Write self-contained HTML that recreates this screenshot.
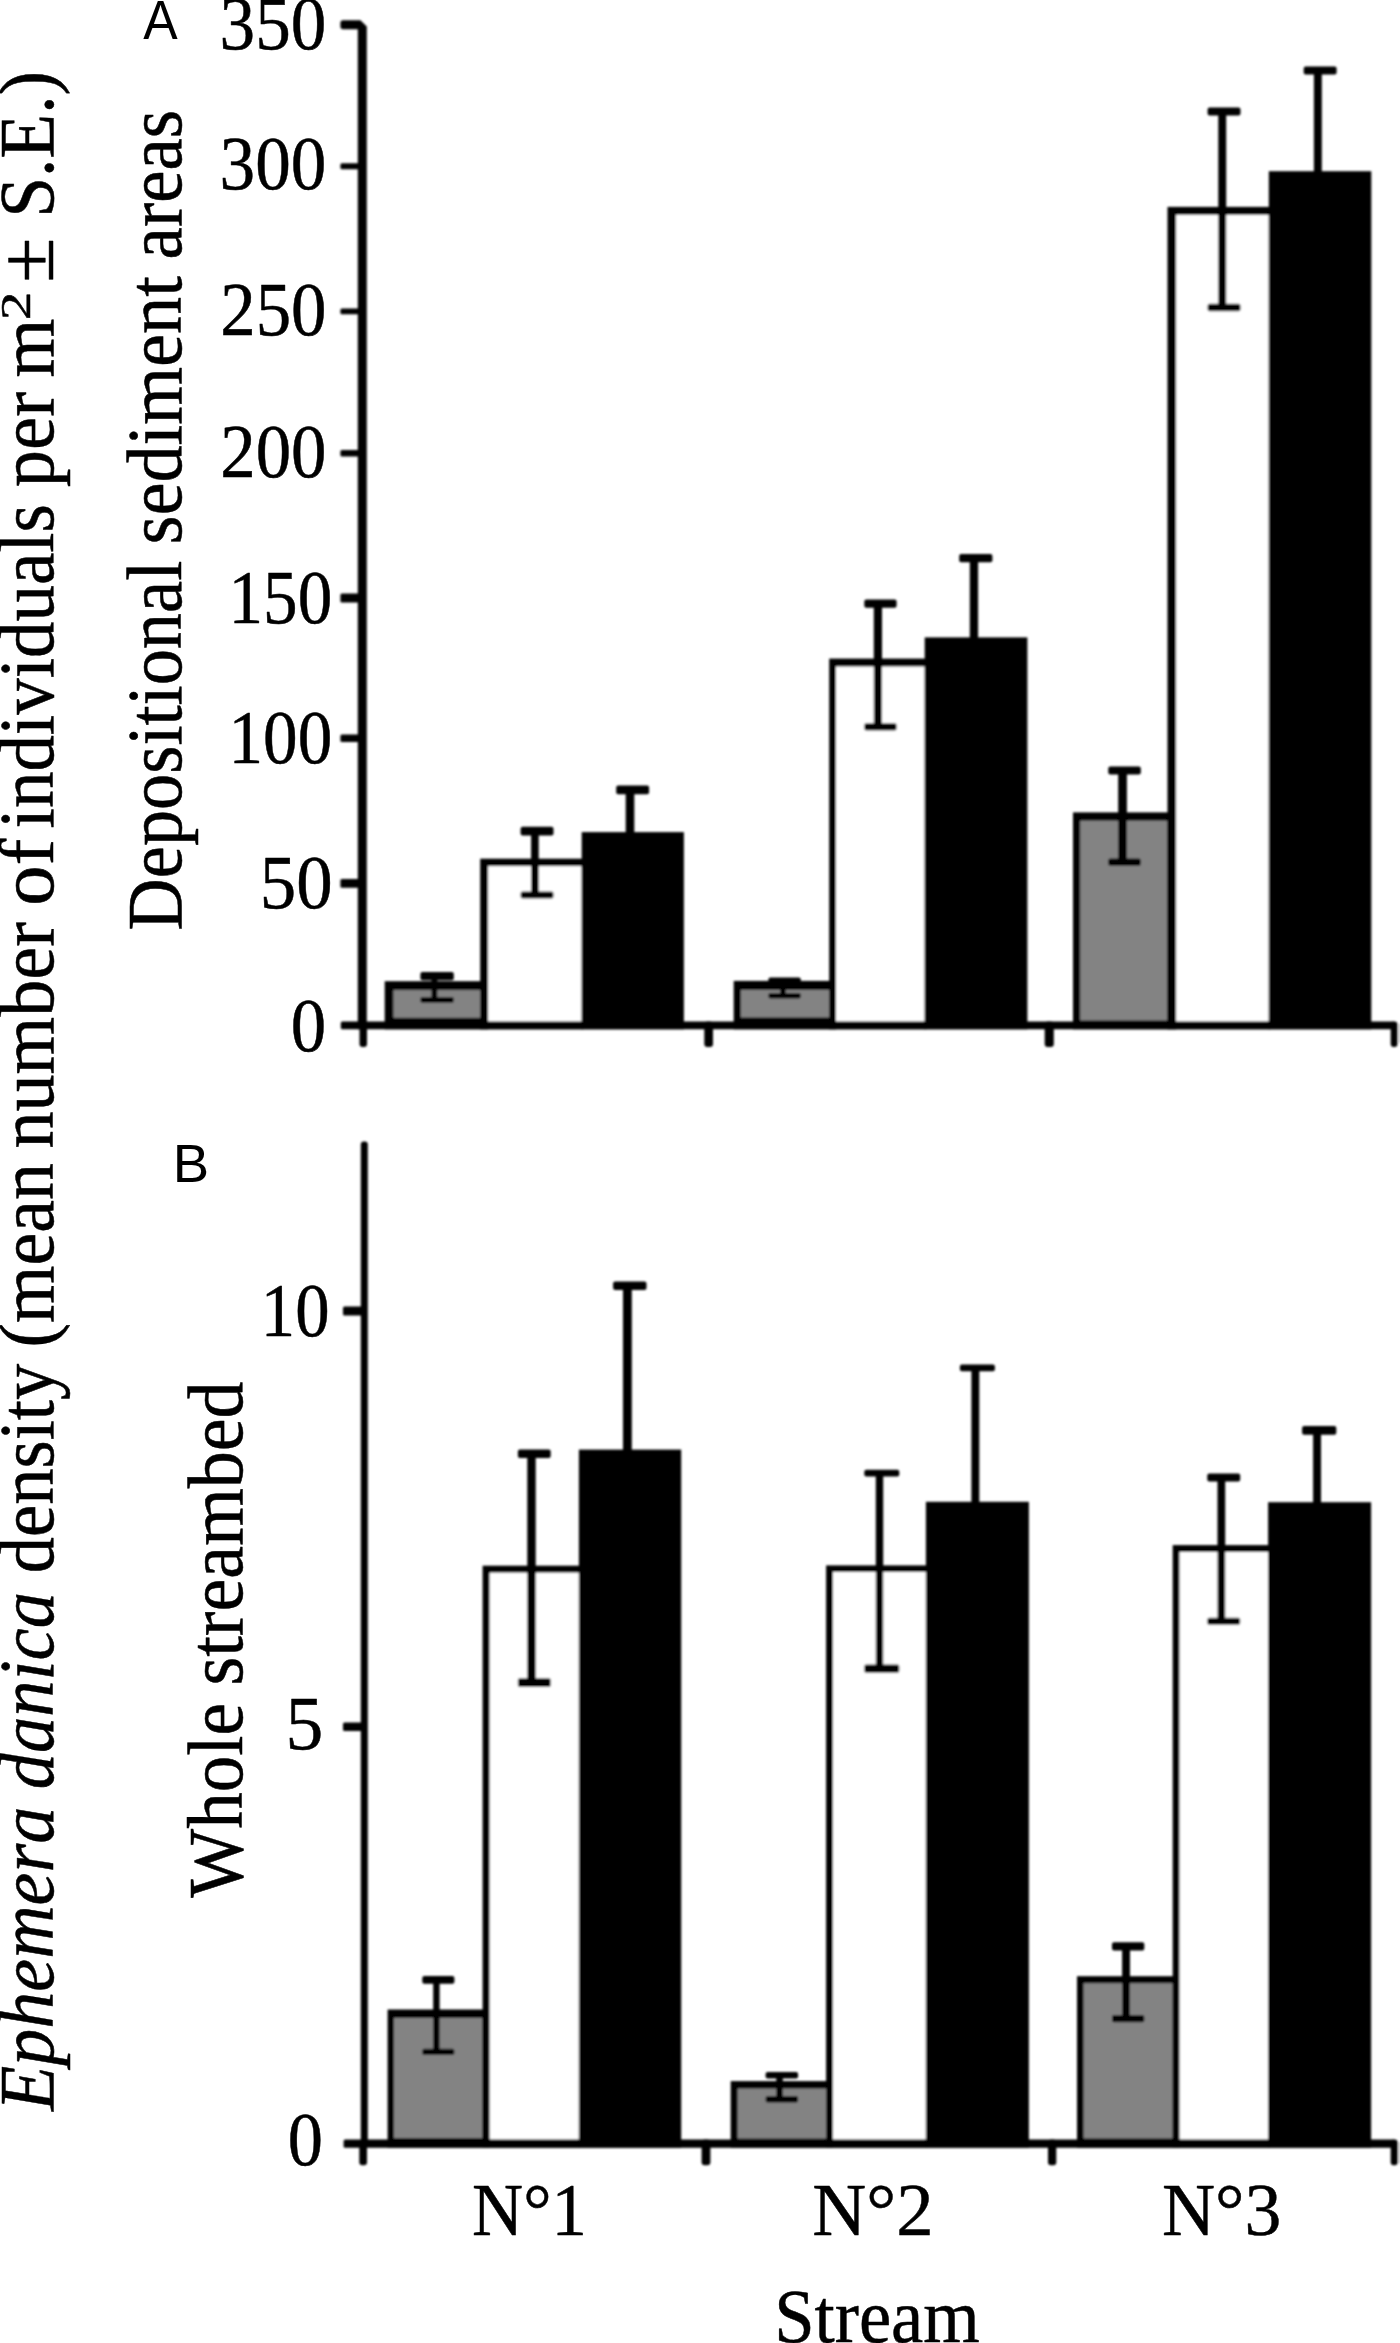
<!DOCTYPE html>
<html lang="en"><head><meta charset="utf-8"><title>Ephemera danica density</title>
<style>
html,body{margin:0;padding:0;background:#fff;}
body{width:1400px;height:2343px;overflow:hidden;}
svg{display:block;font-family:"Liberation Serif",serif;fill:#000;}
</style></head><body>
<svg width="1400" height="2343" viewBox="0 0 1400 2343">
<defs>
<filter id="fs" x="0" y="0" width="1400" height="2343" filterUnits="userSpaceOnUse"><feGaussianBlur stdDeviation="0.8"/></filter>
<filter id="ft" x="0" y="0" width="1400" height="2343" filterUnits="userSpaceOnUse"><feGaussianBlur stdDeviation="0.7"/></filter>
</defs>
<rect width="1400" height="2343" fill="#fff"/>
<g filter="url(#fs)">
<path d="M357.8 1029.3 L357.8 29.2 L343 29.2 Q340.4 29.2 340.4 26.6 L340.4 22.9 Q340.4 20.3 343 20.3 L360.4 20.3 L366.8 26.4 L366.8 1029.3 Z" fill="#000"/>
<rect x="340.40" y="163.15" width="19.60" height="6.20" rx="1.5" fill="#000"/>
<rect x="340.40" y="308.50" width="19.60" height="5.80" rx="1.5" fill="#000"/>
<rect x="340.40" y="449.95" width="19.60" height="6.50" rx="1.5" fill="#000"/>
<rect x="340.40" y="593.50" width="19.60" height="9.00" rx="1.5" fill="#000"/>
<rect x="340.40" y="734.50" width="19.60" height="7.50" rx="1.5" fill="#000"/>
<rect x="340.40" y="879.00" width="19.60" height="8.80" rx="1.5" fill="#000"/>
<rect x="340.80" y="1021.40" width="1054.00" height="7.90" rx="1.5" fill="#000"/>
<rect x="359.50" y="1021.40" width="7.50" height="25.60" rx="3" fill="#000"/>
<rect x="704.30" y="1021.40" width="8.70" height="25.60" rx="3" fill="#000"/>
<rect x="1044.70" y="1021.40" width="9.10" height="25.60" rx="3" fill="#000"/>
<rect x="1390.70" y="1021.40" width="6.80" height="25.60" rx="3" fill="#000"/>
<rect x="1399.00" y="1023.50" width="1.00" height="19.50" fill="#9a9a9a"/>
<rect x="384.70" y="981.20" width="103.40" height="48.10" fill="#000"/>
<rect x="393.40" y="990.10" width="87.00" height="27.70" fill="#838383"/>
<rect x="480.20" y="858.70" width="102.80" height="170.60" fill="#000"/>
<rect x="488.10" y="866.10" width="93.60" height="155.30" fill="#fff"/>
<rect x="581.70" y="832.10" width="102.20" height="197.20" fill="#000"/>
<rect x="420.40" y="972.10" width="33.40" height="8.10" rx="2" fill="#000"/>
<rect x="420.40" y="996.90" width="33.40" height="5.80" rx="2" fill="#000"/>
<rect x="431.50" y="973.10" width="5.80" height="28.60" fill="#000"/>
<rect x="520.60" y="826.70" width="32.90" height="8.70" rx="2" fill="#000"/>
<rect x="520.60" y="891.60" width="32.90" height="6.90" rx="2" fill="#000"/>
<rect x="531.10" y="827.70" width="7.60" height="69.80" fill="#000"/>
<rect x="616.20" y="785.60" width="32.90" height="8.70" rx="2" fill="#000"/>
<rect x="625.70" y="786.60" width="8.60" height="53.40" fill="#000"/>
<rect x="733.70" y="980.90" width="102.30" height="48.40" fill="#000"/>
<rect x="740.80" y="989.90" width="88.40" height="27.60" fill="#838383"/>
<rect x="829.20" y="658.60" width="96.80" height="370.70" fill="#000"/>
<rect x="836.00" y="666.50" width="88.70" height="354.90" fill="#fff"/>
<rect x="924.70" y="637.40" width="102.70" height="391.90" fill="#000"/>
<rect x="768.40" y="977.60" width="32.40" height="6.40" rx="2" fill="#000"/>
<rect x="768.40" y="993.00" width="32.40" height="5.60" rx="2" fill="#000"/>
<rect x="780.00" y="978.60" width="5.80" height="19.00" fill="#000"/>
<rect x="864.30" y="599.60" width="32.30" height="8.20" rx="2" fill="#000"/>
<rect x="864.30" y="723.20" width="32.30" height="7.40" rx="2" fill="#000"/>
<rect x="873.80" y="600.60" width="8.20" height="129.00" fill="#000"/>
<rect x="959.20" y="554.00" width="33.20" height="8.20" rx="2" fill="#000"/>
<rect x="969.80" y="555.00" width="8.30" height="90.00" fill="#000"/>
<rect x="1073.00" y="812.40" width="103.10" height="216.90" fill="#000"/>
<rect x="1080.20" y="820.60" width="86.80" height="199.90" fill="#838383"/>
<rect x="1167.50" y="206.90" width="102.50" height="822.40" fill="#000"/>
<rect x="1176.10" y="214.80" width="92.70" height="806.60" fill="#fff"/>
<rect x="1268.80" y="171.20" width="102.50" height="858.10" fill="#000"/>
<rect x="1108.30" y="766.40" width="32.50" height="8.20" rx="2" fill="#000"/>
<rect x="1108.30" y="858.40" width="32.50" height="7.40" rx="2" fill="#000"/>
<rect x="1118.20" y="767.40" width="8.70" height="97.40" fill="#000"/>
<rect x="1207.60" y="107.50" width="32.90" height="7.90" rx="2" fill="#000"/>
<rect x="1207.60" y="303.80" width="32.90" height="7.40" rx="2" fill="#000"/>
<rect x="1218.30" y="108.50" width="7.90" height="201.70" fill="#000"/>
<rect x="1303.70" y="66.40" width="32.90" height="8.20" rx="2" fill="#000"/>
<rect x="1313.90" y="67.40" width="7.90" height="112.60" fill="#000"/>
<rect x="360.80" y="1141.50" width="7.00" height="1006.20" rx="3" fill="#000"/>
<rect x="343.00" y="1306.50" width="20.00" height="9.00" rx="1.5" fill="#000"/>
<rect x="343.00" y="1722.50" width="20.00" height="8.50" rx="1.5" fill="#000"/>
<rect x="343.60" y="2139.40" width="1051.40" height="8.30" rx="1.5" fill="#000"/>
<rect x="359.30" y="2139.40" width="7.70" height="25.90" rx="3" fill="#000"/>
<rect x="701.60" y="2139.40" width="8.80" height="25.90" rx="3" fill="#000"/>
<rect x="1048.00" y="2139.40" width="8.30" height="25.90" rx="3" fill="#000"/>
<rect x="1390.70" y="2139.40" width="7.00" height="25.90" rx="3" fill="#000"/>
<rect x="1399.00" y="2142.00" width="1.00" height="21.50" fill="#9a9a9a"/>
<rect x="387.60" y="2009.50" width="101.80" height="138.20" fill="#000"/>
<rect x="394.00" y="2017.90" width="88.50" height="120.20" fill="#838383"/>
<rect x="482.60" y="1565.70" width="97.40" height="582.00" fill="#000"/>
<rect x="489.60" y="1572.60" width="89.30" height="566.80" fill="#fff"/>
<rect x="578.90" y="1449.60" width="102.30" height="698.10" fill="#000"/>
<rect x="422.30" y="1976.10" width="32.10" height="7.70" rx="2" fill="#000"/>
<rect x="422.30" y="2048.70" width="32.10" height="6.40" rx="2" fill="#000"/>
<rect x="433.20" y="1977.10" width="6.40" height="77.00" fill="#000"/>
<rect x="517.90" y="1449.60" width="32.80" height="8.50" rx="2" fill="#000"/>
<rect x="517.90" y="1678.30" width="32.80" height="8.80" rx="2" fill="#000"/>
<rect x="527.30" y="1450.60" width="8.40" height="235.50" fill="#000"/>
<rect x="613.10" y="1281.60" width="33.40" height="8.40" rx="2" fill="#000"/>
<rect x="623.00" y="1282.60" width="8.80" height="177.40" fill="#000"/>
<rect x="730.70" y="2081.10" width="102.20" height="66.60" fill="#000"/>
<rect x="737.60" y="2088.50" width="88.40" height="50.10" fill="#838383"/>
<rect x="826.10" y="1565.40" width="100.90" height="582.30" fill="#000"/>
<rect x="833.00" y="1572.00" width="92.90" height="567.40" fill="#fff"/>
<rect x="925.90" y="1501.80" width="103.00" height="645.90" fill="#000"/>
<rect x="765.60" y="2072.00" width="32.50" height="6.60" rx="2" fill="#000"/>
<rect x="765.60" y="2095.90" width="32.50" height="6.50" rx="2" fill="#000"/>
<rect x="776.30" y="2073.00" width="6.50" height="28.40" fill="#000"/>
<rect x="864.30" y="1469.80" width="35.00" height="6.60" rx="2" fill="#000"/>
<rect x="864.30" y="1664.50" width="35.00" height="8.20" rx="2" fill="#000"/>
<rect x="875.80" y="1470.80" width="7.40" height="200.90" fill="#000"/>
<rect x="959.90" y="1364.60" width="35.00" height="6.60" rx="2" fill="#000"/>
<rect x="971.40" y="1365.60" width="7.90" height="144.40" fill="#000"/>
<rect x="1077.00" y="1976.20" width="102.50" height="171.50" fill="#000"/>
<rect x="1083.50" y="1983.20" width="89.20" height="155.30" fill="#838383"/>
<rect x="1172.70" y="1545.10" width="97.30" height="602.60" fill="#000"/>
<rect x="1179.50" y="1552.00" width="88.60" height="587.40" fill="#fff"/>
<rect x="1268.10" y="1502.20" width="103.00" height="645.50" fill="#000"/>
<rect x="1112.00" y="1942.20" width="32.30" height="8.20" rx="2" fill="#000"/>
<rect x="1112.00" y="2015.00" width="32.30" height="7.20" rx="2" fill="#000"/>
<rect x="1122.10" y="1943.20" width="7.90" height="78.00" fill="#000"/>
<rect x="1207.30" y="1473.60" width="32.90" height="8.00" rx="2" fill="#000"/>
<rect x="1207.30" y="1617.70" width="32.90" height="7.00" rx="2" fill="#000"/>
<rect x="1217.50" y="1474.60" width="7.70" height="149.10" fill="#000"/>
<rect x="1302.10" y="1426.00" width="34.20" height="8.80" rx="2" fill="#000"/>
<rect x="1313.10" y="1427.00" width="7.90" height="83.00" fill="#000"/>
</g>
<g filter="url(#ft)" stroke="#000" stroke-width="0.5" stroke-linejoin="round">
<g transform="translate(219.62,48.73) scale(0.9193,0.9750)"><text x="0" y="0" font-size="77.4" style='font-family:"Liberation Serif",serif'>350</text></g>
<g transform="translate(219.62,188.73) scale(0.9193,0.9712)"><text x="0" y="0" font-size="77.4" style='font-family:"Liberation Serif",serif'>300</text></g>
<g transform="translate(220.25,334.52) scale(0.9155,0.9769)"><text x="0" y="0" font-size="77.4" style='font-family:"Liberation Serif",serif'>250</text></g>
<g transform="translate(220.25,477.03) scale(0.9155,0.9712)"><text x="0" y="0" font-size="77.4" style='font-family:"Liberation Serif",serif'>200</text></g>
<g transform="translate(228.55,622.52) scale(0.8934,0.9808)"><text x="0" y="0" font-size="77.4" style='font-family:"Liberation Serif",serif'>150</text></g>
<g transform="translate(228.55,762.52) scale(0.8934,0.9808)"><text x="0" y="0" font-size="77.4" style='font-family:"Liberation Serif",serif'>100</text></g>
<g transform="translate(259.79,907.52) scale(0.9420,0.9750)"><text x="0" y="0" font-size="77.4" style='font-family:"Liberation Serif",serif'>50</text></g>
<g transform="translate(290.75,1050.53) scale(0.9152,0.9712)"><text x="0" y="0" font-size="77.4" style='font-family:"Liberation Serif",serif'>0</text></g>
<g transform="translate(260.78,1335.53) scale(0.8881,0.9750)"><text x="0" y="0" font-size="77.4" style='font-family:"Liberation Serif",serif'>10</text></g>
<g transform="translate(285.61,1748.73) scale(0.9774,0.9750)"><text x="0" y="0" font-size="77.4" style='font-family:"Liberation Serif",serif'>5</text></g>
<g transform="translate(287.77,2165.03) scale(0.9091,0.9712)"><text x="0" y="0" font-size="77.4" style='font-family:"Liberation Serif",serif'>0</text></g>
<g transform="translate(471.97,2235.04) scale(0.9160,0.9623)"><text x="0" y="0" font-size="77.4" style='font-family:"Liberation Serif",serif'>N°1</text></g>
<g transform="translate(812.32,2235.03) scale(0.9668,0.9679)"><text x="0" y="0" font-size="77.4" style='font-family:"Liberation Serif",serif'>N°2</text></g>
<g transform="translate(1161.90,2235.04) scale(0.9517,0.9623)"><text x="0" y="0" font-size="77.4" style='font-family:"Liberation Serif",serif'>N°3</text></g>
<g transform="translate(774.21,2342.32) scale(0.9376,0.9750)"><text x="0" y="0" font-size="77.4" style='font-family:"Liberation Serif",serif'>Stream</text></g>
<g transform="translate(143.23,39.46) scale(0.6670,0.7075)"><text x="0" y="0" font-size="77.4" stroke="none" style='font-family:"Liberation Sans",sans-serif'>A</text></g>
<g transform="translate(172.87,1182.00) scale(0.7049,0.6852)"><text x="0" y="0" font-size="77.4" stroke="none" style='font-family:"Liberation Sans",sans-serif'>B</text></g>
<g transform="translate(52.90,2110.94) rotate(-90) scale(0.9563,1)"><text x="0" y="0" font-size="77.4" style='font-family:"Liberation Serif",serif'><tspan font-style="italic">Ephemera</tspan></text></g>
<g transform="translate(52.90,1789.17) rotate(-90) scale(0.9354,1)"><text x="0" y="0" font-size="77.4" style='font-family:"Liberation Serif",serif'><tspan font-style="italic">danica</tspan></text></g>
<g transform="translate(52.90,1573.31) rotate(-90) scale(0.9373,1)"><text x="0" y="0" font-size="77.4" style='font-family:"Liberation Serif",serif'>density</text></g>
<g transform="translate(52.90,1347.46) rotate(-90) scale(0.9529,1)"><text x="0" y="0" font-size="77.4" style='font-family:"Liberation Serif",serif'>(mean</text></g>
<g transform="translate(52.90,1148.52) rotate(-90) scale(0.9581,1)"><text x="0" y="0" font-size="77.4" style='font-family:"Liberation Serif",serif'>number</text></g>
<g transform="translate(52.90,905.72) rotate(-90) scale(1.0387,1)"><text x="0" y="0" font-size="77.4" style='font-family:"Liberation Serif",serif'>of</text></g>
<g transform="translate(52.90,828.39) rotate(-90) scale(0.9431,1)"><text x="0" y="0" font-size="77.4" style='font-family:"Liberation Serif",serif'>individuals</text></g>
<g transform="translate(52.90,487.26) rotate(-90) scale(0.9639,1)"><text x="0" y="0" font-size="77.4" style='font-family:"Liberation Serif",serif'>per</text></g>
<g transform="translate(52.90,377.45) rotate(-90) scale(0.9772,1)"><text x="0" y="0" font-size="77.4" style='font-family:"Liberation Serif",serif'>m</text></g>
<g transform="translate(29.60,320.17) rotate(-90) scale(1.3353,1)"><text x="0" y="0" font-size="43.0" style='font-family:"Liberation Serif",serif'>2</text></g>
<g transform="translate(52.90,282.80) rotate(-90) scale(1.0667,1)"><text x="0" y="0" font-size="77.4" style='font-family:"Liberation Serif",serif'>±</text></g>
<g transform="translate(52.90,217.74) rotate(-90) scale(0.9473,1)"><text x="0" y="0" font-size="77.4" style='font-family:"Liberation Serif",serif'>S.E.)</text></g>
<g transform="translate(180.70,930.47) rotate(-90) scale(0.9349,1)"><text x="0" y="0" font-size="77.4" style='font-family:"Liberation Serif",serif'>Depositional</text></g>
<g transform="translate(180.70,544.48) rotate(-90) scale(0.9605,1)"><text x="0" y="0" font-size="77.4" style='font-family:"Liberation Serif",serif'>sediment</text></g>
<g transform="translate(180.70,259.42) rotate(-90) scale(0.9412,1)"><text x="0" y="0" font-size="77.4" style='font-family:"Liberation Serif",serif'>areas</text></g>
<g transform="translate(241.80,1897.80) rotate(-90) scale(0.9446,1)"><text x="0" y="0" font-size="77.4" style='font-family:"Liberation Serif",serif'>Whole</text></g>
<g transform="translate(241.80,1685.57) rotate(-90) scale(0.9564,1)"><text x="0" y="0" font-size="77.4" style='font-family:"Liberation Serif",serif'>streambed</text></g>
</g>
</svg>
</body></html>
